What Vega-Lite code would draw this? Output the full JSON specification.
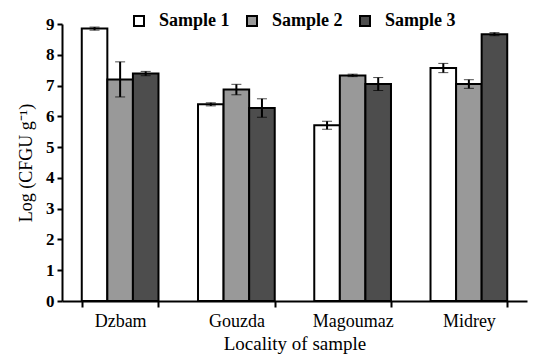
{
  "$schema": "https://vega.github.io/schema/vega-lite/v6.json",
  "width": 465,
  "height": 277,
  "autosize": {"type": "none"},
  "padding": {"left": 62, "top": 24, "right": 6, "bottom": 53},
  "background": "white",
  "config": {
    "view": {"stroke": null},
    "font": "Liberation Serif",
    "axis": {"labelFont": "Liberation Serif", "titleFont": "Liberation Serif"},
    "legend": {"labelFont": "Liberation Serif"}
  },
  "data": {
    "values": [
      {"loc": "Dzbam", "sample": "Sample 1", "v": 8.85, "e": 0.05},
      {"loc": "Dzbam", "sample": "Sample 2", "v": 7.2, "e": 0.57},
      {"loc": "Dzbam", "sample": "Sample 3", "v": 7.39, "e": 0.07},
      {"loc": "Gouzda", "sample": "Sample 1", "v": 6.39, "e": 0.05},
      {"loc": "Gouzda", "sample": "Sample 2", "v": 6.87, "e": 0.17},
      {"loc": "Gouzda", "sample": "Sample 3", "v": 6.27, "e": 0.3},
      {"loc": "Magoumaz", "sample": "Sample 1", "v": 5.71, "e": 0.13},
      {"loc": "Magoumaz", "sample": "Sample 2", "v": 7.33, "e": 0.04},
      {"loc": "Magoumaz", "sample": "Sample 3", "v": 7.05, "e": 0.21},
      {"loc": "Midrey", "sample": "Sample 1", "v": 7.57, "e": 0.15},
      {"loc": "Midrey", "sample": "Sample 2", "v": 7.05, "e": 0.14},
      {"loc": "Midrey", "sample": "Sample 3", "v": 8.67, "e": 0.05}
    ]
  },
  "transform": [
    {"calculate": "datum.v - datum.e", "as": "lo"},
    {"calculate": "datum.v + datum.e", "as": "hi"}
  ],
  "encoding": {
    "x": {
      "field": "loc", "type": "nominal", "sort": null,
      "scale": {"paddingInner": 0.34, "paddingOuter": 0.17},
      "axis": {
        "title": "Locality of sample", "labelAngle": 0,
        "tickBand": "extent", "domainColor": "black", "domainWidth": 2,
        "tickColor": "black", "tickWidth": 2, "tickSize": 6,
        "labelFontSize": 18, "labelColor": "black",
        "labelPadding": 5,
        "titleFontSize": 19, "titleFontWeight": "normal",
        "titleColor": "black", "titlePadding": 4
      }
    },
    "xOffset": {"field": "sample", "type": "nominal", "scale": {"paddingInner": 0}}
  },
  "layer": [
    {
      "mark": {"type": "bar", "stroke": "black", "strokeWidth": 2},
      "encoding": {
        "y": {
          "field": "v", "type": "quantitative",
          "scale": {"domain": [0, 9], "nice": false},
          "axis": {
            "title": "Log (CFGU g⁻¹)", "tickCount": 9, "grid": false,
            "domainColor": "black", "domainWidth": 2,
            "tickColor": "black", "tickWidth": 2, "tickSize": 5,
            "labelFontSize": 17, "labelFontWeight": "bold",
            "labelColor": "black", "labelPadding": 3,
            "titleFontSize": 18, "titleFontWeight": "normal",
            "titleColor": "black", "titlePadding": 10
          }
        },
        "fill": {
          "field": "sample", "type": "nominal",
          "scale": {"domain": ["Sample 1", "Sample 2", "Sample 3"], "range": ["#ffffff", "#999999", "#4d4d4d"]},
          "legend": {
            "title": null, "orient": "none", "direction": "horizontal",
            "legendX": 68, "legendY": -12,
            "symbolType": "square", "symbolSize": 100, "symbolStrokeColor": "black", "symbolStrokeWidth": 2,
            "labelFontSize": 18, "labelFontWeight": "bold",
            "labelColor": "black", "columnPadding": 13, "labelOffset": 11
          }
        }
      }
    },
    {
      "mark": {"type": "errorbar", "ticks": {"color": "black", "strokeWidth": 2, "size": 10}, "rule": {"color": "black", "strokeWidth": 2}},
      "encoding": {
        "y": {"field": "lo", "type": "quantitative", "title": "Log (CFGU g⁻¹)"},
        "y2": {"field": "hi"}
      }
    }
  ]
}
